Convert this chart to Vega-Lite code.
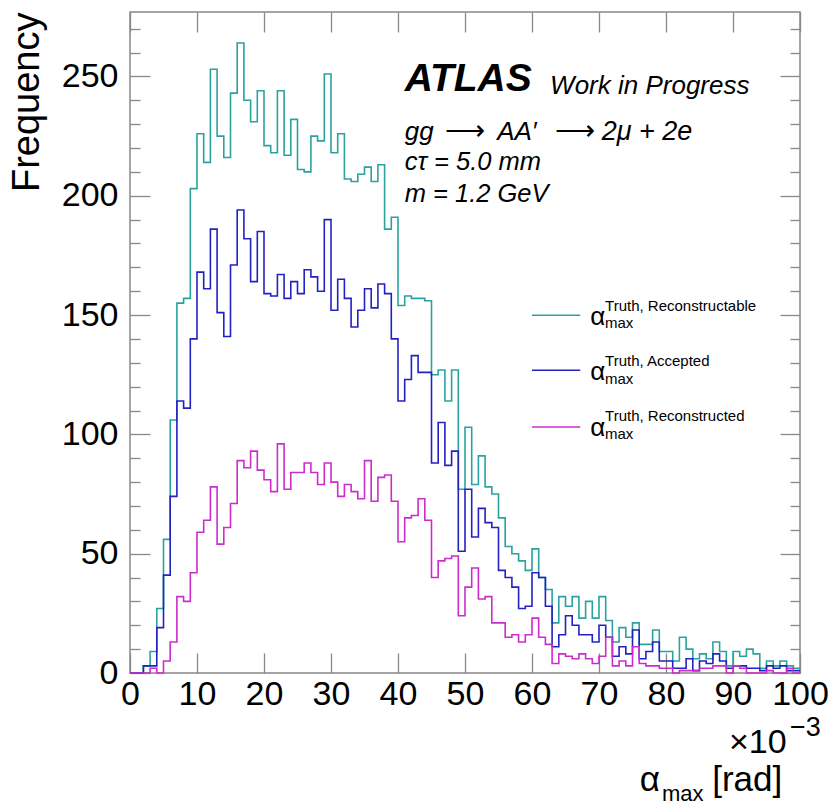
{
  "$schema": "https://vega.github.io/schema/vega-lite/v6.json",
  "width": 670,
  "height": 661,
  "autosize": {"type": "none"},
  "padding": {"left": 130, "top": 12, "right": 38, "bottom": 133},
  "background": "white",
  "config": {
    "view": {"stroke": "#888888", "strokeWidth": 1.5},
    "axis": {"tickColor": "#888888", "tickWidth": 1.3, "domain": false, "grid": false, "labelColor": "#000000", "titleColor": "#000000"},
    "text": {"font": "Liberation Sans", "color": "#000000"}
  },
  "resolve": {"axis": {"x": "independent", "y": "independent"}},
  "layer": [
    {
      "data": {
        "values": [
          {"x": 0, "Reconstructable": 0, "Accepted": 0, "Reconstructed": 0},
          {"x": 1, "Reconstructable": 0, "Accepted": 0, "Reconstructed": 0},
          {"x": 2, "Reconstructable": 3, "Accepted": 3, "Reconstructed": 0},
          {"x": 3, "Reconstructable": 9, "Accepted": 3, "Reconstructed": 2},
          {"x": 4, "Reconstructable": 27, "Accepted": 19, "Reconstructed": 0},
          {"x": 5, "Reconstructable": 56, "Accepted": 41, "Reconstructed": 5},
          {"x": 6, "Reconstructable": 106, "Accepted": 74, "Reconstructed": 13},
          {"x": 7, "Reconstructable": 155, "Accepted": 114, "Reconstructed": 32},
          {"x": 8, "Reconstructable": 157, "Accepted": 111, "Reconstructed": 30},
          {"x": 9, "Reconstructable": 203, "Accepted": 140, "Reconstructed": 42},
          {"x": 10, "Reconstructable": 226, "Accepted": 168, "Reconstructed": 59},
          {"x": 11, "Reconstructable": 214, "Accepted": 161, "Reconstructed": 64},
          {"x": 12, "Reconstructable": 253, "Accepted": 186, "Reconstructed": 78},
          {"x": 13, "Reconstructable": 225, "Accepted": 151, "Reconstructed": 54},
          {"x": 14, "Reconstructable": 216, "Accepted": 141, "Reconstructed": 61},
          {"x": 15, "Reconstructable": 243, "Accepted": 171, "Reconstructed": 71},
          {"x": 16, "Reconstructable": 264, "Accepted": 194, "Reconstructed": 89},
          {"x": 17, "Reconstructable": 240, "Accepted": 182, "Reconstructed": 86},
          {"x": 18, "Reconstructable": 231, "Accepted": 164, "Reconstructed": 93},
          {"x": 19, "Reconstructable": 244, "Accepted": 185, "Reconstructed": 85},
          {"x": 20, "Reconstructable": 221, "Accepted": 159, "Reconstructed": 81},
          {"x": 21, "Reconstructable": 218, "Accepted": 158, "Reconstructed": 76},
          {"x": 22, "Reconstructable": 244, "Accepted": 167, "Reconstructed": 96},
          {"x": 23, "Reconstructable": 217, "Accepted": 157, "Reconstructed": 77},
          {"x": 24, "Reconstructable": 232, "Accepted": 164, "Reconstructed": 84},
          {"x": 25, "Reconstructable": 211, "Accepted": 159, "Reconstructed": 84},
          {"x": 26, "Reconstructable": 210, "Accepted": 169, "Reconstructed": 88},
          {"x": 27, "Reconstructable": 225, "Accepted": 166, "Reconstructed": 84},
          {"x": 28, "Reconstructable": 223, "Accepted": 160, "Reconstructed": 79},
          {"x": 29, "Reconstructable": 251, "Accepted": 190, "Reconstructed": 88},
          {"x": 30, "Reconstructable": 218, "Accepted": 152, "Reconstructed": 80},
          {"x": 31, "Reconstructable": 226, "Accepted": 165, "Reconstructed": 74},
          {"x": 32, "Reconstructable": 207, "Accepted": 157, "Reconstructed": 79},
          {"x": 33, "Reconstructable": 206, "Accepted": 145, "Reconstructed": 76},
          {"x": 34, "Reconstructable": 209, "Accepted": 152, "Reconstructed": 73},
          {"x": 35, "Reconstructable": 212, "Accepted": 161, "Reconstructed": 89},
          {"x": 36, "Reconstructable": 206, "Accepted": 153, "Reconstructed": 72},
          {"x": 37, "Reconstructable": 213, "Accepted": 163, "Reconstructed": 82},
          {"x": 38, "Reconstructable": 186, "Accepted": 159, "Reconstructed": 83},
          {"x": 39, "Reconstructable": 191, "Accepted": 140, "Reconstructed": 72},
          {"x": 40, "Reconstructable": 154, "Accepted": 114, "Reconstructed": 55},
          {"x": 41, "Reconstructable": 158, "Accepted": 123, "Reconstructed": 65},
          {"x": 42, "Reconstructable": 157, "Accepted": 133, "Reconstructed": 66},
          {"x": 43, "Reconstructable": 157, "Accepted": 126, "Reconstructed": 73},
          {"x": 44, "Reconstructable": 156, "Accepted": 126, "Reconstructed": 64},
          {"x": 45, "Reconstructable": 125, "Accepted": 88, "Reconstructed": 40},
          {"x": 46, "Reconstructable": 127, "Accepted": 105, "Reconstructed": 47},
          {"x": 47, "Reconstructable": 114, "Accepted": 87, "Reconstructed": 48},
          {"x": 48, "Reconstructable": 127, "Accepted": 93, "Reconstructed": 49},
          {"x": 49, "Reconstructable": 77, "Accepted": 51, "Reconstructed": 24},
          {"x": 50, "Reconstructable": 103, "Accepted": 77, "Reconstructed": 36},
          {"x": 51, "Reconstructable": 79, "Accepted": 57, "Reconstructed": 44},
          {"x": 52, "Reconstructable": 91, "Accepted": 69, "Reconstructed": 31},
          {"x": 53, "Reconstructable": 78, "Accepted": 63, "Reconstructed": 32},
          {"x": 54, "Reconstructable": 75, "Accepted": 61, "Reconstructed": 21},
          {"x": 55, "Reconstructable": 65, "Accepted": 43, "Reconstructed": 21},
          {"x": 56, "Reconstructable": 53, "Accepted": 40, "Reconstructed": 15},
          {"x": 57, "Reconstructable": 50, "Accepted": 36, "Reconstructed": 16},
          {"x": 58, "Reconstructable": 47, "Accepted": 27, "Reconstructed": 13},
          {"x": 59, "Reconstructable": 43, "Accepted": 28, "Reconstructed": 16},
          {"x": 60, "Reconstructable": 52, "Accepted": 42, "Reconstructed": 23},
          {"x": 61, "Reconstructable": 40, "Accepted": 40, "Reconstructed": 15},
          {"x": 62, "Reconstructable": 35, "Accepted": 28, "Reconstructed": 12},
          {"x": 63, "Reconstructable": 21, "Accepted": 11, "Reconstructed": 4},
          {"x": 64, "Reconstructable": 32, "Accepted": 16, "Reconstructed": 8},
          {"x": 65, "Reconstructable": 28, "Accepted": 24, "Reconstructed": 7},
          {"x": 66, "Reconstructable": 32, "Accepted": 20, "Reconstructed": 6},
          {"x": 67, "Reconstructable": 23, "Accepted": 16, "Reconstructed": 8},
          {"x": 68, "Reconstructable": 30, "Accepted": 16, "Reconstructed": 6},
          {"x": 69, "Reconstructable": 23, "Accepted": 13, "Reconstructed": 4},
          {"x": 70, "Reconstructable": 32, "Accepted": 20, "Reconstructed": 7},
          {"x": 71, "Reconstructable": 22, "Accepted": 15, "Reconstructed": 15},
          {"x": 72, "Reconstructable": 13, "Accepted": 7, "Reconstructed": 3},
          {"x": 73, "Reconstructable": 19, "Accepted": 11, "Reconstructed": 5},
          {"x": 74, "Reconstructable": 15, "Accepted": 8, "Reconstructed": 3},
          {"x": 75, "Reconstructable": 21, "Accepted": 18, "Reconstructed": 11},
          {"x": 76, "Reconstructable": 12, "Accepted": 6, "Reconstructed": 4},
          {"x": 77, "Reconstructable": 12, "Accepted": 9, "Reconstructed": 3},
          {"x": 78, "Reconstructable": 18, "Accepted": 13, "Reconstructed": 3},
          {"x": 79, "Reconstructable": 9, "Accepted": 5, "Reconstructed": 2},
          {"x": 80, "Reconstructable": 9, "Accepted": 5, "Reconstructed": 2},
          {"x": 81, "Reconstructable": 5, "Accepted": 2, "Reconstructed": 0},
          {"x": 82, "Reconstructable": 15, "Accepted": 2, "Reconstructed": 1},
          {"x": 83, "Reconstructable": 10, "Accepted": 6, "Reconstructed": 1},
          {"x": 84, "Reconstructable": 6, "Accepted": 1, "Reconstructed": 1},
          {"x": 85, "Reconstructable": 8, "Accepted": 5, "Reconstructed": 2},
          {"x": 86, "Reconstructable": 6, "Accepted": 4, "Reconstructed": 2},
          {"x": 87, "Reconstructable": 13, "Accepted": 8, "Reconstructed": 3},
          {"x": 88, "Reconstructable": 9, "Accepted": 5, "Reconstructed": 3},
          {"x": 89, "Reconstructable": 3, "Accepted": 2, "Reconstructed": 0},
          {"x": 90, "Reconstructable": 9, "Accepted": 3, "Reconstructed": 3},
          {"x": 91, "Reconstructable": 7, "Accepted": 3, "Reconstructed": 2},
          {"x": 92, "Reconstructable": 10, "Accepted": 2, "Reconstructed": 0},
          {"x": 93, "Reconstructable": 8, "Accepted": 2, "Reconstructed": 0},
          {"x": 94, "Reconstructable": 2, "Accepted": 1, "Reconstructed": 0},
          {"x": 95, "Reconstructable": 5, "Accepted": 3, "Reconstructed": 1},
          {"x": 96, "Reconstructable": 3, "Accepted": 2, "Reconstructed": 0},
          {"x": 97, "Reconstructable": 5, "Accepted": 3, "Reconstructed": 0},
          {"x": 98, "Reconstructable": 3, "Accepted": 1, "Reconstructed": 2},
          {"x": 99, "Reconstructable": 2, "Accepted": 1, "Reconstructed": 0},
          {"x": 100, "Reconstructable": 2, "Accepted": 1, "Reconstructed": 0}
        ]
      },
      "transform": [{"fold": ["Reconstructable", "Accepted", "Reconstructed"], "as": ["series", "count"]}],
      "mark": {"type": "line", "interpolate": "step-after", "strokeWidth": 1.6},
      "encoding": {
        "x": {
          "field": "x", "type": "quantitative",
          "scale": {"domain": [0, 100], "nice": false, "zero": false},
          "axis": {
            "orient": "bottom", "values": [0, 10, 20, 30, 40, 50, 60, 70, 80, 90, 100],
            "tickSize": -20, "labelFont": "Liberation Sans", "labelFontSize": 34,
            "labelPadding": 24, "labelBaseline": "top", "labelFlush": false, "labelOverlap": false,
            "title": null
          }
        },
        "y": {
          "field": "count", "type": "quantitative",
          "scale": {"domain": [0, 277], "nice": false},
          "axis": {
            "orient": "left",
            "values": [0, 10, 20, 30, 40, 50, 60, 70, 80, 90, 100, 110, 120, 130, 140, 150, 160, 170, 180, 190, 200, 210, 220, 230, 240, 250, 260, 270],
            "tickSize": {"condition": {"test": "datum.value % 50 === 0", "value": -20}, "value": -10},
            "labelExpr": "datum.value % 50 === 0 ? datum.label : ''",
            "labelFont": "Liberation Sans", "labelFontSize": 34, "labelPadding": 32,
            "labelOverlap": false, "labelFlush": false,
            "title": "Frequency", "titleFont": "Liberation Sans", "titleFontSize": 38, "titleFontWeight": "normal",
            "titleAngle": -90, "titleAlign": "right", "titleBaseline": "top", "titleX": -122, "titleY": 0
          }
        },
        "color": {
          "field": "series", "type": "nominal",
          "scale": {"domain": ["Reconstructable", "Accepted", "Reconstructed"], "range": ["#2aa3a0", "#2222c4", "#cc2ccc"]},
          "legend": null
        }
      }
    },
    {
      "data": {"values": [{}]},
      "mark": {"type": "rule", "color": "#2aa3a0", "strokeWidth": 1.6},
      "encoding": {
        "x": {
          "datum": 60.0, "type": "quantitative",
          "axis": {"orient": "top", "values": [0, 10, 20, 30, 40, 50, 60, 70, 80, 90, 100], "tickSize": -20, "labels": false, "title": null}
        },
        "x2": {"datum": 67.2},
        "y": {
          "datum": 149.9, "type": "quantitative",
          "axis": {
            "orient": "right",
            "values": [0, 10, 20, 30, 40, 50, 60, 70, 80, 90, 100, 110, 120, 130, 140, 150, 160, 170, 180, 190, 200, 210, 220, 230, 240, 250, 260, 270],
            "tickSize": {"condition": {"test": "datum.value % 50 === 0", "value": -20}, "value": -10},
            "labels": false, "title": null
          }
        }
      }
    },
    {
      "data": {"values": [{}]},
      "mark": {"type": "rule", "color": "#2222c4", "strokeWidth": 1.6},
      "encoding": {"x": {"datum": 60.0, "type": "quantitative", "axis": null}, "x2": {"datum": 67.2}, "y": {"datum": 126.9, "type": "quantitative", "axis": null}}
    },
    {
      "data": {"values": [{}]},
      "mark": {"type": "rule", "color": "#cc2ccc", "strokeWidth": 1.6},
      "encoding": {"x": {"datum": 60.0, "type": "quantitative", "axis": null}, "x2": {"datum": 67.2}, "y": {"datum": 103.1, "type": "quantitative", "axis": null}}
    },
    {
      "data": {"values": [{}]},
      "mark": {"type": "text", "text": "α", "fontSize": 26, "align": "left", "baseline": "alphabetic"},
      "encoding": {"x": {"datum": 68.7, "type": "quantitative", "axis": null}, "y": {"datum": 146.0, "type": "quantitative", "axis": null}}
    },
    {
      "data": {"values": [{}]},
      "mark": {"type": "text", "text": "α", "fontSize": 26, "align": "left", "baseline": "alphabetic"},
      "encoding": {"x": {"datum": 68.7, "type": "quantitative", "axis": null}, "y": {"datum": 122.9, "type": "quantitative", "axis": null}}
    },
    {
      "data": {"values": [{}]},
      "mark": {"type": "text", "text": "α", "fontSize": 26, "align": "left", "baseline": "alphabetic"},
      "encoding": {"x": {"datum": 68.7, "type": "quantitative", "axis": null}, "y": {"datum": 99.5, "type": "quantitative", "axis": null}}
    },
    {
      "data": {"values": [{}]},
      "mark": {"type": "text", "text": "Truth, Reconstructable", "fontSize": 15, "align": "left", "baseline": "alphabetic"},
      "encoding": {"x": {"datum": 70.9, "type": "quantitative", "axis": null}, "y": {"datum": 151.6, "type": "quantitative", "axis": null}}
    },
    {
      "data": {"values": [{}]},
      "mark": {"type": "text", "text": "Truth, Accepted", "fontSize": 15, "align": "left", "baseline": "alphabetic"},
      "encoding": {"x": {"datum": 70.9, "type": "quantitative", "axis": null}, "y": {"datum": 128.5, "type": "quantitative", "axis": null}}
    },
    {
      "data": {"values": [{}]},
      "mark": {"type": "text", "text": "Truth, Reconstructed", "fontSize": 15, "align": "left", "baseline": "alphabetic"},
      "encoding": {"x": {"datum": 70.9, "type": "quantitative", "axis": null}, "y": {"datum": 105.5, "type": "quantitative", "axis": null}}
    },
    {
      "data": {"values": [{}]},
      "mark": {"type": "text", "text": "max", "fontSize": 15, "align": "left", "baseline": "alphabetic"},
      "encoding": {"x": {"datum": 70.9, "type": "quantitative", "axis": null}, "y": {"datum": 144.5, "type": "quantitative", "axis": null}}
    },
    {
      "data": {"values": [{}]},
      "mark": {"type": "text", "text": "max", "fontSize": 15, "align": "left", "baseline": "alphabetic"},
      "encoding": {"x": {"datum": 70.9, "type": "quantitative", "axis": null}, "y": {"datum": 121.0, "type": "quantitative", "axis": null}}
    },
    {
      "data": {"values": [{}]},
      "mark": {"type": "text", "text": "max", "fontSize": 15, "align": "left", "baseline": "alphabetic"},
      "encoding": {"x": {"datum": 70.9, "type": "quantitative", "axis": null}, "y": {"datum": 98.0, "type": "quantitative", "axis": null}}
    },
    {
      "data": {"values": [{}]},
      "mark": {"type": "text", "text": "ATLAS", "fontSize": 39, "fontWeight": "bold", "fontStyle": "italic", "align": "left", "baseline": "alphabetic"},
      "encoding": {"x": {"datum": 41.0, "type": "quantitative", "axis": null}, "y": {"datum": 243.8, "type": "quantitative", "axis": null}}
    },
    {
      "data": {"values": [{}]},
      "mark": {"type": "text", "text": "Work in Progress", "fontSize": 26, "fontStyle": "italic", "align": "left", "baseline": "alphabetic"},
      "encoding": {"x": {"datum": 62.7, "type": "quantitative", "axis": null}, "y": {"datum": 242.8, "type": "quantitative", "axis": null}}
    },
    {
      "data": {"values": [{}]},
      "mark": {"type": "text", "text": "gg", "fontSize": 26, "fontStyle": "italic", "align": "left", "baseline": "alphabetic"},
      "encoding": {"x": {"datum": 41.0, "type": "quantitative", "axis": null}, "y": {"datum": 223.5, "type": "quantitative", "axis": null}}
    },
    {
      "data": {"values": [{}]},
      "mark": {"type": "text", "text": "⟶", "fontSize": 28, "align": "left", "baseline": "alphabetic"},
      "encoding": {"x": {"datum": 47.0, "type": "quantitative", "axis": null}, "y": {"datum": 223.5, "type": "quantitative", "axis": null}}
    },
    {
      "data": {"values": [{}]},
      "mark": {"type": "text", "text": "AA′", "fontSize": 26, "fontStyle": "italic", "align": "left", "baseline": "alphabetic"},
      "encoding": {"x": {"datum": 54.8, "type": "quantitative", "axis": null}, "y": {"datum": 223.5, "type": "quantitative", "axis": null}}
    },
    {
      "data": {"values": [{}]},
      "mark": {"type": "text", "text": "⟶", "fontSize": 28, "align": "left", "baseline": "alphabetic"},
      "encoding": {"x": {"datum": 63.5, "type": "quantitative", "axis": null}, "y": {"datum": 223.5, "type": "quantitative", "axis": null}}
    },
    {
      "data": {"values": [{}]},
      "mark": {"type": "text", "text": "2μ + 2e", "fontSize": 27, "fontStyle": "italic", "align": "left", "baseline": "alphabetic"},
      "encoding": {"x": {"datum": 70.4, "type": "quantitative", "axis": null}, "y": {"datum": 223.5, "type": "quantitative", "axis": null}}
    },
    {
      "data": {"values": [{}]},
      "mark": {"type": "text", "text": "cτ = 5.0 mm", "fontSize": 25.5, "fontStyle": "italic", "align": "left", "baseline": "alphabetic"},
      "encoding": {"x": {"datum": 41.0, "type": "quantitative", "axis": null}, "y": {"datum": 210.6, "type": "quantitative", "axis": null}}
    },
    {
      "data": {"values": [{}]},
      "mark": {"type": "text", "text": "m = 1.2 GeV", "fontSize": 25.5, "fontStyle": "italic", "align": "left", "baseline": "alphabetic"},
      "encoding": {"x": {"datum": 41.0, "type": "quantitative", "axis": null}, "y": {"datum": 197.4, "type": "quantitative", "axis": null}}
    },
    {
      "data": {"values": [{}]},
      "mark": {"type": "text", "text": "×10", "fontSize": 34, "align": "right", "baseline": "alphabetic"},
      "encoding": {"x": {"datum": 98.0, "type": "quantitative", "axis": null}, "y": {"datum": -33.5, "type": "quantitative", "axis": null}}
    },
    {
      "data": {"values": [{}]},
      "mark": {"type": "text", "text": "−3", "fontSize": 27, "align": "left", "baseline": "alphabetic"},
      "encoding": {"x": {"datum": 98.5, "type": "quantitative", "axis": null}, "y": {"datum": -26.3, "type": "quantitative", "axis": null}}
    },
    {
      "data": {"values": [{}]},
      "mark": {"type": "text", "text": "α", "fontSize": 35, "align": "left", "baseline": "alphabetic"},
      "encoding": {"x": {"datum": 76.1, "type": "quantitative", "axis": null}, "y": {"datum": -49.3, "type": "quantitative", "axis": null}}
    },
    {
      "data": {"values": [{}]},
      "mark": {"type": "text", "text": "max", "fontSize": 22, "align": "left", "baseline": "alphabetic"},
      "encoding": {"x": {"datum": 79.4, "type": "quantitative", "axis": null}, "y": {"datum": -53.6, "type": "quantitative", "axis": null}}
    },
    {
      "data": {"values": [{}]},
      "mark": {"type": "text", "text": "[rad]", "fontSize": 35, "align": "left", "baseline": "alphabetic"},
      "encoding": {"x": {"datum": 86.9, "type": "quantitative", "axis": null}, "y": {"datum": -49.3, "type": "quantitative", "axis": null}}
    }
  ]
}
